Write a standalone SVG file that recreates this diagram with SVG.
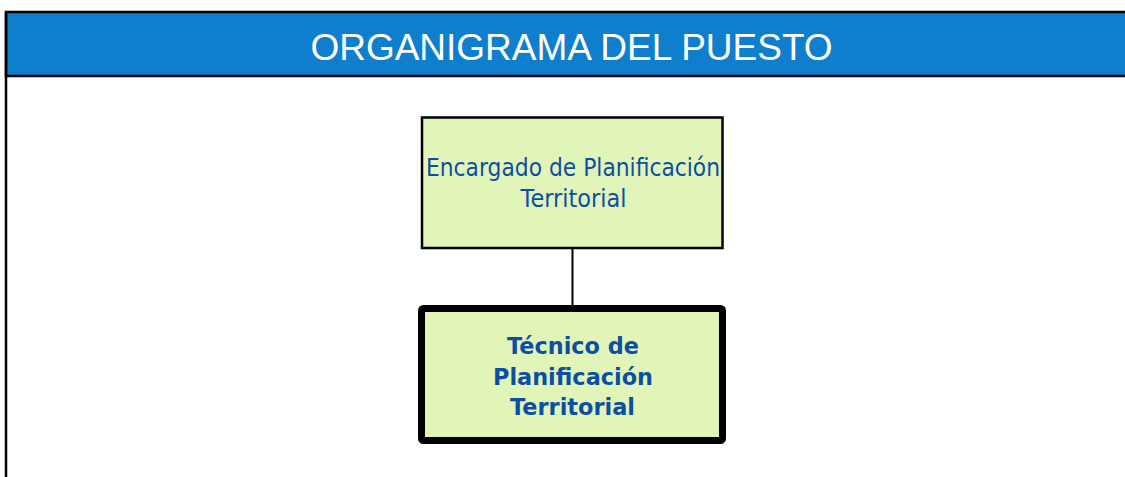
<svg xmlns="http://www.w3.org/2000/svg" width="1125" height="477" viewBox="0 0 1125 477">
<style>
.hdr{font-family:"Liberation Sans",Arial,sans-serif;font-size:37px;fill:#ffffff}
.lbl{font-family:"DejaVu Sans",Verdana,sans-serif;font-size:24px;fill:#0b4fa3}
.lblb{font-family:"DejaVu Sans",Verdana,sans-serif;font-size:23.5px;font-weight:bold;fill:#0b4fa3}
.box{fill:#e2f5b9;stroke:#000000}
</style>
<rect width="1125" height="477" fill="#ffffff"/>
<g id="header">
<rect x="6" y="12" width="1125" height="64" fill="#0e7ecd" stroke="#000000" stroke-width="2.5"/>
<line x1="6" y1="12" x2="6" y2="477" stroke="#000000" stroke-width="2.5"/>
<text class="hdr" x="571.5" y="59.5" text-anchor="middle">ORGANIGRAMA DEL PUESTO</text>
</g>
<g id="connectors">
<line x1="572.5" y1="248" x2="572.5" y2="306" stroke="#000000" stroke-width="2"/>
</g>
<g id="node-encargado">
<rect class="box" x="422" y="117.5" width="300.5" height="130.5" stroke-width="2.5"/>
<text class="lbl" x="573" y="176" text-anchor="middle" textLength="294" lengthAdjust="spacingAndGlyphs">Encargado de Planificación</text>
<text class="lbl" x="573.5" y="207" text-anchor="middle" textLength="106" lengthAdjust="spacingAndGlyphs">Territorial</text>
</g>
<g id="node-tecnico">
<rect class="box" x="421.5" y="308.5" width="301" height="132" rx="2" stroke-width="7"/>
<text class="lblb" x="573" y="353.5" text-anchor="middle" textLength="132" lengthAdjust="spacingAndGlyphs">Técnico de</text>
<text class="lblb" x="573" y="385" text-anchor="middle" textLength="160" lengthAdjust="spacingAndGlyphs">Planificación</text>
<text class="lblb" x="572.5" y="415" text-anchor="middle" textLength="125" lengthAdjust="spacingAndGlyphs">Territorial</text>
</g>
</svg>
